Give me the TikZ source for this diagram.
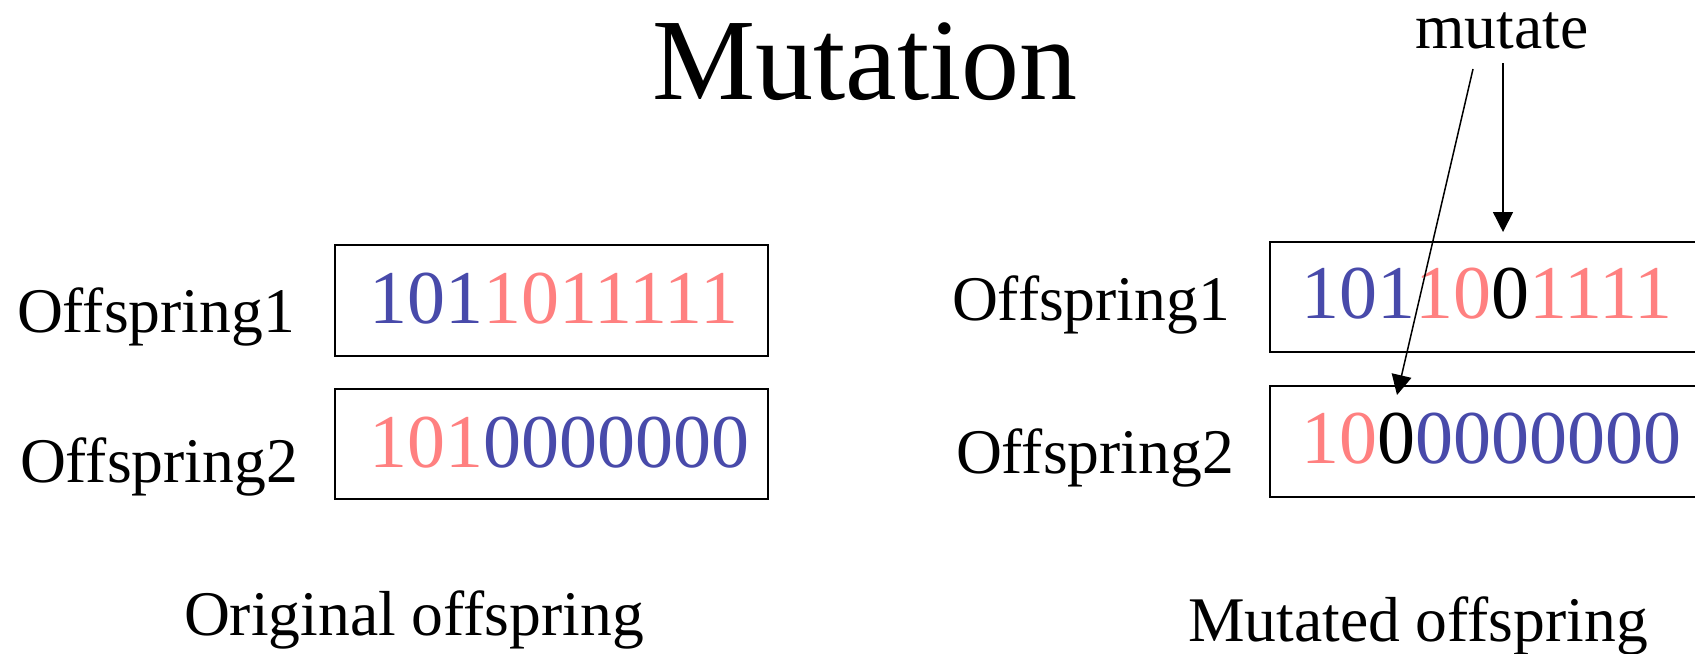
\documentclass[tikz,border=0pt]{standalone}
\usepackage{fontspec}
\setmainfont{Liberation Serif}
\usetikzlibrary{arrows.meta}
\definecolor{bitblue}{RGB}{72,74,170}
\definecolor{bitred}{RGB}{255,128,128}
\tikzset{
  lbl/.style={font=\fontsize{31.8pt}{36pt}\selectfont, anchor=base, inner sep=0pt},
  bits/.style={font=\fontsize{38pt}{42pt}\selectfont, anchor=base west, inner sep=0pt},
  chrom/.style={draw=black, line width=1pt},
  mutarrow/.style={line width=0.75pt, -{Triangle[length=10pt,width=10pt]}}
}
\begin{document}
\begin{tikzpicture}[x=0.5pt,y=-0.5pt]
\useasboundingbox (0,0) rectangle (1695,653);
\clip (0,0) rectangle (1695,653);
% title
\node[font=\fontsize{58pt}{64pt}\selectfont, anchor=base, inner sep=0pt] (title) at (865,99) {Mutation};
% left side
\draw[chrom] (335,245) rectangle (768,356);
\draw[chrom] (335,389) rectangle (768,499);
\node[lbl] (lo1) at (156,332) {Offspring1};
\node[lbl] (lo2) at (159,482) {Offspring2};
\node[bits] (lb1) at (369,323) {\textcolor{bitblue}{101}\textcolor{bitred}{1011111}};
\node[bits] (lb2) at (369,467) {\textcolor{bitred}{101}\textcolor{bitblue}{0000000}};
\node[lbl] (orig) at (414,635) {Original offspring};
% right side
\draw[chrom] (1270,242) rectangle (1710,352);
\draw[chrom] (1270,386) rectangle (1710,497);
\node[lbl] (ro1) at (1091,320) {Offspring1};
\node[lbl] (ro2) at (1095,473) {Offspring2};
\node[bits] (rb1) at (1301,318) {\textcolor{bitblue}{101}\textcolor{bitred}{10}0\textcolor{bitred}{1111}};
\node[bits] (rb2) at (1301,463) {\textcolor{bitred}{10}0\textcolor{bitblue}{0000000}};
\node[lbl] (mut) at (1418,641) {Mutated offspring};
% mutate arrows
\node[lbl] (mutate) at (1502,48) {mutate};
\coordinate (s1) at (1503,63);
\coordinate (t1) at (1503,232);
\coordinate (s2) at (1473,69);
\coordinate (t2) at (1397,395);
\draw[mutarrow] (s1) -- (t1);
\draw[mutarrow] (s2) -- (t2);
\end{tikzpicture}
\end{document}
